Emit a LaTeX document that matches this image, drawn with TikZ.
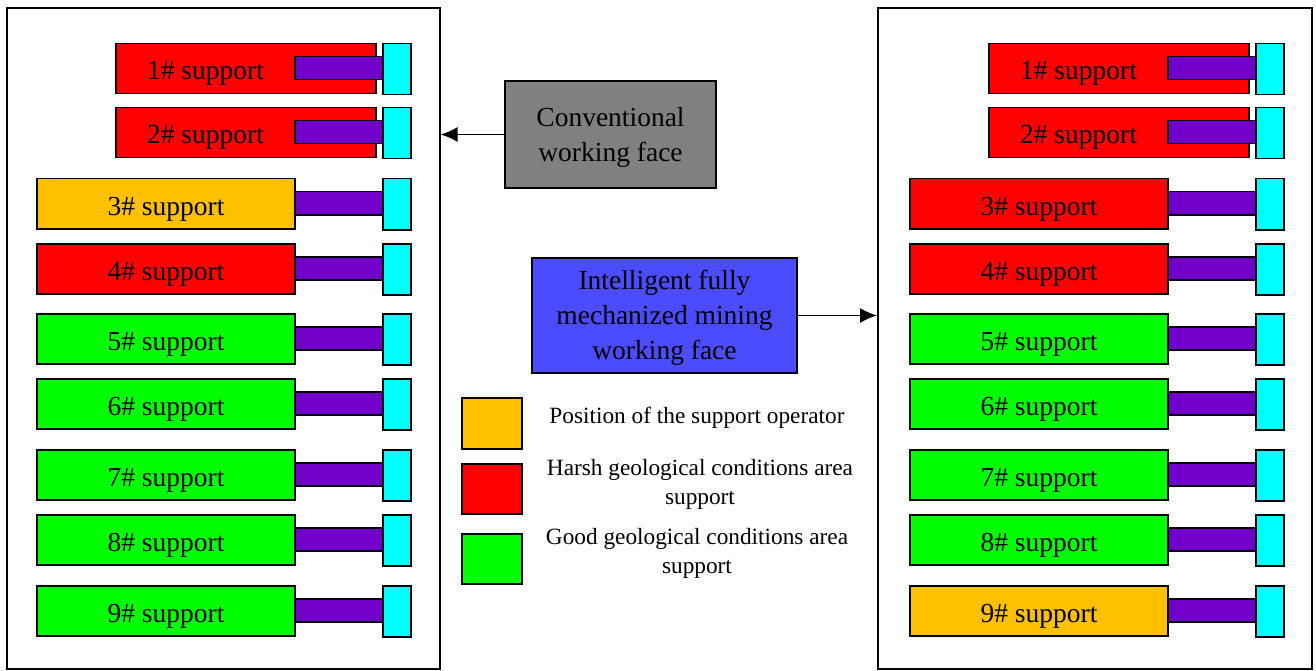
\documentclass[tikz,border=0pt]{standalone}
\usepackage{fontspec}
\setmainfont{Liberation Serif}
\usetikzlibrary{arrows.meta}

\definecolor{harsh}{RGB}{255,0,0}
\definecolor{good}{RGB}{0,255,0}
\definecolor{operator}{RGB}{255,192,0}
\definecolor{shaft}{RGB}{112,0,200}
\definecolor{plate}{RGB}{0,255,255}
\definecolor{convgray}{RGB}{128,128,128}
\definecolor{intelblue}{RGB}{75,75,255}

\tikzset{
  box/.style={draw=black, line width=1.5pt, inner sep=0pt, anchor=north west},
  frame/.style={draw=black, line width=1.6pt, inner sep=0pt, anchor=north west,
    minimum height=661pt},
  supportlabel/.style={inner sep=0pt, anchor=base, font=\fontsize{27.5}{30}\selectfont},
  facebox/.style={draw=black, line width=1.5pt, inner sep=0pt, align=center,
    font=\fontsize{27.5}{35}\selectfont},
  legendtext/.style={inner sep=0pt, align=center, font=\fontsize{23.3}{29}\selectfont},
  arr/.style={line width=1.5pt, -{Latex[length=17pt,width=15pt]}},
}

% one hydraulic support: body, shaft and plate
% #1 name, #2 x shift of the panel, #3 top y, #4 body left, #5 body right, #6 fill, #7 label
\newcommand\supportunit[7]{%
  \node[box, fill=#6, minimum width={(#5-#4)*1pt}, minimum height=50pt]
    (#1b) at ({#2+#4},{#3}) {};
  \node[box, fill=shaft, minimum width=89pt, minimum height=23pt]
    (#1s) at ({#2+294},{#3+13}) {};
  \node[box, fill=plate, minimum width=28pt, minimum height=51pt]
    (#1p) at ({#2+382},{#3}) {};
  \node[supportlabel] (#1t) at ({#2+(#4+294)/2+1},{#3+37}) {#7};
}

\begin{document}
\begin{tikzpicture}[x=1pt, y=-1pt]
\useasboundingbox (0,0) rectangle (1316,671);

% panels
\node[frame, minimum width=433pt] (lframe) at (6,7) {};
\node[frame, minimum width=434pt] (rframe) at (877,7) {};

% conventional working face
\supportunit{La}{0}{43}{115}{375}{harsh}{1\# support}
\supportunit{Lb}{0}{107}{115}{375}{harsh}{2\# support}
\supportunit{Lc}{0}{178}{36}{294}{operator}{3\# support}
\supportunit{Ld}{0}{243}{36}{294}{harsh}{4\# support}
\supportunit{Le}{0}{313}{36}{294}{good}{5\# support}
\supportunit{Lf}{0}{378}{36}{294}{good}{6\# support}
\supportunit{Lg}{0}{449}{36}{294}{good}{7\# support}
\supportunit{Lh}{0}{514}{36}{294}{good}{8\# support}
\supportunit{Li}{0}{585}{36}{294}{good}{9\# support}

% intelligent working face
\supportunit{Ra}{873}{43}{115}{375}{harsh}{1\# support}
\supportunit{Rb}{873}{107}{115}{375}{harsh}{2\# support}
\supportunit{Rc}{873}{178}{36}{294}{harsh}{3\# support}
\supportunit{Rd}{873}{243}{36}{294}{harsh}{4\# support}
\supportunit{Re}{873}{313}{36}{294}{good}{5\# support}
\supportunit{Rf}{873}{378}{36}{294}{good}{6\# support}
\supportunit{Rg}{873}{449}{36}{294}{good}{7\# support}
\supportunit{Rh}{873}{514}{36}{294}{good}{8\# support}
\supportunit{Ri}{873}{585}{36}{294}{operator}{9\# support}

% face type boxes
\node[facebox, fill=convgray, minimum width=211pt, minimum height=107pt]
  (conv) at (610.5,134.5) {\rule{0pt}{24pt}Conventional\\working face};
\node[facebox, fill=intelblue, minimum width=265pt, minimum height=115pt]
  (intel) at (664.5,315.5) {\rule{0pt}{24pt}Intelligent fully\\mechanized mining\\working face};

\draw[arr] (conv.west) -- (conv.west -| lframe.east);
\draw[arr] (intel.east) -- (intel.east -| rframe.west);

% legend
\node[box, fill=operator, minimum width=60pt, minimum height=51pt] (keyop) at (461,397) {};
\node[box, fill=harsh, minimum width=60pt, minimum height=50pt] (keyharsh) at (461,463) {};
\node[box, fill=good, minimum width=60pt, minimum height=50pt] (keygood) at (461,533) {};
\node[legendtext] (keyoptext) at (697,418) {Position of the support operator};
\node[legendtext] (keyharshtext) at (700,484) {Harsh geological conditions area\\support};
\node[legendtext] (keygoodtext) at (697,553) {Good geological conditions area\\support};
\end{tikzpicture}
\end{document}
